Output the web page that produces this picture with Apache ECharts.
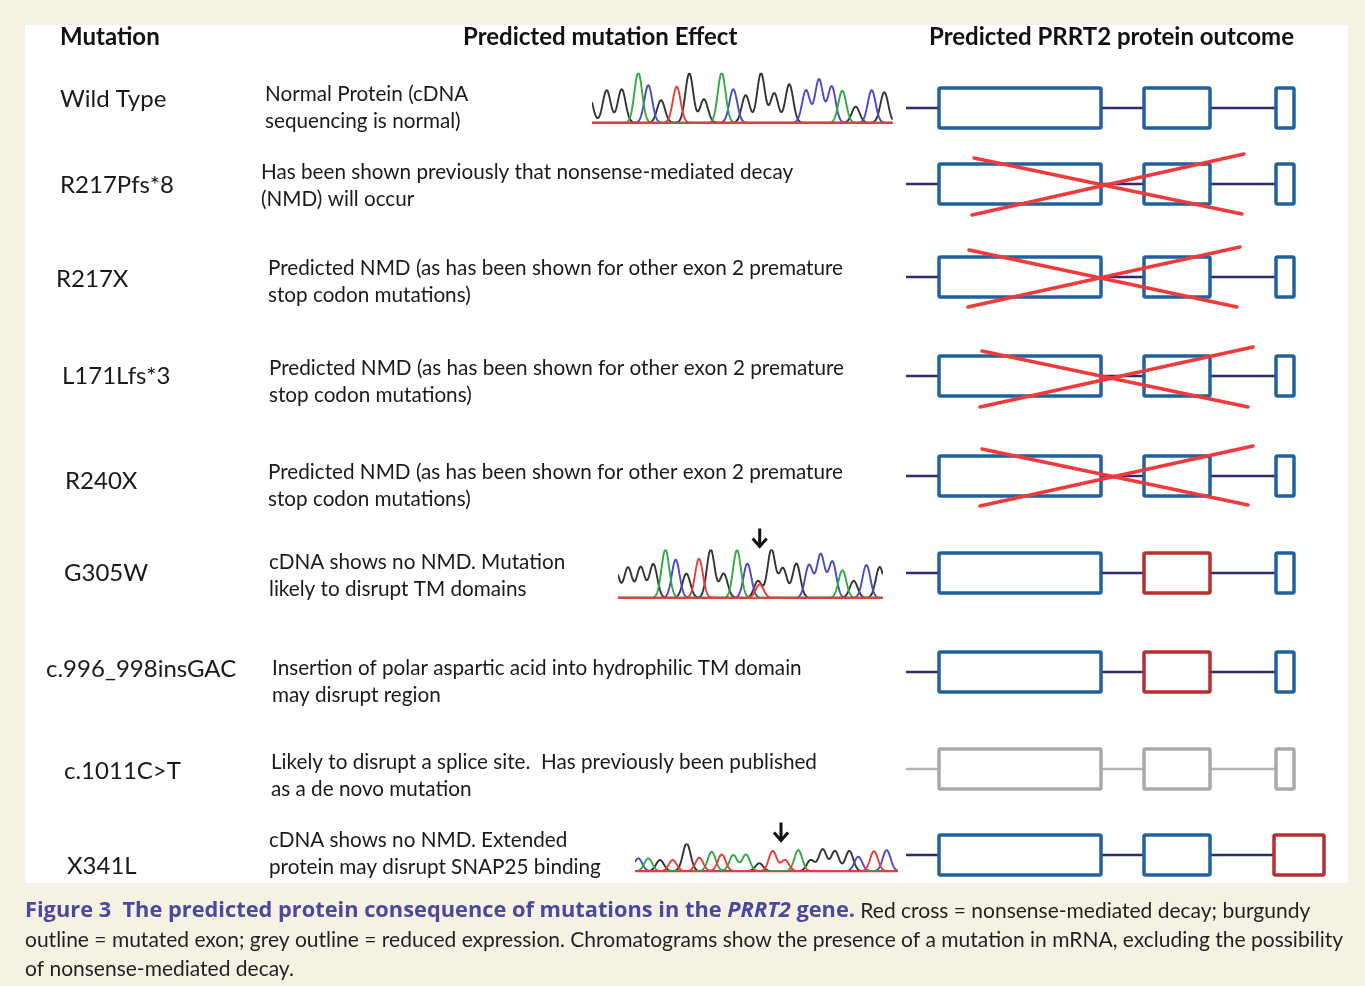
<!DOCTYPE html>
<html>
<head>
<meta charset="utf-8">
<script src="https://cdn.jsdelivr.net/npm/echarts/dist/echarts.min.js"></script>
<style>
html,body{margin:0;padding:0;background:#f5f1e3;}
#chart{width:1365px;height:986px;}
</style>
</head>
<body>
<div id="chart"></div>
<script>
// ---------------- DATA ----------------
const HEADERS = ['Mutation', 'Predicted mutation Effect', 'Predicted PRRT2 protein outcome'];
const MUTATIONS = ['Wild Type', 'R217Pfs*8', 'R217X', 'L171Lfs*3', 'R240X', 'G305W', 'c.996_998insGAC', 'c.1011C>T', 'X341L'];
const EFFECT_LINE1 = [
  'Normal Protein (cDNA',
  'Has been shown previously that nonsense-mediated decay',
  'Predicted NMD (as has been shown for other exon 2 premature',
  'Predicted NMD (as has been shown for other exon 2 premature',
  'Predicted NMD (as has been shown for other exon 2 premature',
  'cDNA shows no NMD. Mutation',
  'Insertion of polar aspartic acid into hydrophilic TM domain',
  'Likely to disrupt a splice site.  Has previously been published',
  'cDNA shows no NMD. Extended'
];
const EFFECT_LINE2 = [
  'sequencing is normal)',
  '(NMD) will occur',
  'stop codon mutations)',
  'stop codon mutations)',
  'stop codon mutations)',
  'likely to disrupt TM domains',
  'may disrupt region',
  'as a de novo mutation',
  'protein may disrupt SNAP25 binding'
];
// outcome per mutation
const OUTCOME = ['normal', 'nmd', 'nmd', 'nmd', 'nmd', 'mutExon2', 'mutExon2', 'reduced', 'extExon3'];
// gene model (arbitrary gene units along the transcript)
const EXON_BOUNDS = [[33, 195], [238, 304], [370, 388]];
const EXON3_EXTENDED = [368, 418];
// red NMD crosses: [x1, y1, x2, y2] per stroke (gene units, y offset from transcript axis)
const NMD_CROSSES = [
  null,
  [[68, -26, 336, 30], [66, 31, 338, -30]],
  [[63, -27, 331, 30], [62, 30, 334, -30]],
  [[76, -25, 342, 31], [74, 31, 347, -29]],
  [[76, -27, 342, 29], [74, 30, 347, -30]],
  null, null, null, null
];
// chromatogram peaks: [position, relative height, base]
const CHROM_WT = [
  [-3, 0.55, 'G'], [14.7, 0.65, 'G'], [29.7, 0.67, 'G'], [46.3, 1.0, 'A'], [56.3, 0.75, 'C'],
  [69, 0.45, 'G'], [84.7, 0.72, 'T'], [97.3, 0.99, 'G'], [112, 0.47, 'G'], [129.7, 1.0, 'A'],
  [141.3, 0.67, 'C'], [153.7, 0.55, 'G'], [169, 0.99, 'G'], [182.3, 0.59, 'G'], [197.3, 0.77, 'G'],
  [214, 0.65, 'C'], [227, 0.87, 'C'], [239.7, 0.73, 'C'], [250.3, 0.64, 'A'], [263.7, 0.32, 'G'],
  [279.7, 0.65, 'C'], [292.3, 0.61, 'G']
];
const CHROM_G305W = [
  [-3, 0.62, 'G'], [10, 0.63, 'G'], [22.7, 0.64, 'G'], [35.3, 0.7, 'G'], [47.4, 1.0, 'A'], [57.7, 0.79, 'C'],
  [68.4, 0.5, 'G'], [81, 0.81, 'T'], [92.7, 1.0, 'G'], [105.7, 0.5, 'G'], [119, 0.99, 'A'],
  [129.4, 0.71, 'C'], [140, 0.35, 'G'], [141.7, 0.28, 'T'], [153.4, 1.0, 'G'], [165, 0.61, 'G'],
  [178.4, 0.71, 'G'], [191, 0.68, 'C'], [202.7, 0.9, 'C'], [214.4, 0.75, 'C'], [224.4, 0.57, 'A'],
  [235.7, 0.35, 'G'], [248.4, 0.68, 'C'], [261.7, 0.64, 'G']
];
const CHROM_X341L = [
  [3.3, 0.46, 'C'], [13.3, 0.46, 'A'], [25, 0.4, 'G'], [37.7, 0.4, 'T'], [51.7, 1.0, 'G'],
  [64.3, 0.48, 'T'], [76.7, 0.7, 'A'], [86.7, 0.6, 'T'], [98.3, 0.58, 'A'], [111, 0.6, 'A'],
  [124.3, 0.28, 'G'], [137.7, 0.73, 'T'], [150, 0.4, 'T'], [163.3, 0.76, 'A'], [175.7, 0.4, 'G'],
  [187.7, 0.79, 'G'], [200, 0.73, 'G'], [214.3, 0.73, 'G'], [223.3, 0.52, 'C'], [239, 0.72, 'T'],
  [251.7, 0.76, 'C']
];
const MUT_SITE_G305W = 141.7;
const MUT_SITE_X341L = 146;
const CAPTION_BOLD = 'Figure 3  The predicted protein consequence of mutations in the ';
const CAPTION_ITALIC = 'PRRT2';
const CAPTION_BOLD_END = ' gene.';
const CAPTION_LINE1_REST = ' Red cross = nonsense-mediated decay; burgundy';
const CAPTION_LINE2 = 'outline = mutated exon; grey outline = reduced expression. Chromatograms show the presence of a mutation in mRNA, excluding the possibility';
const CAPTION_LINE3 = 'of nonsense-mediated decay.';

// ---------------- LAYOUT & STYLE ----------------
const ROW_Y = [108, 184, 277, 376, 476, 573, 672, 769, 855];
const LABEL_POS = [[60, 99], [60, 185], [56, 279], [62, 376], [65, 481], [64, 573], [46, 669], [64, 771], [67, 866]];
const EFFECT_POS = [[265, 94], [261, 172], [268, 268], [269, 368], [268, 472], [269, 562], [272, 668], [271, 762], [269, 840]];
const EFFECT_LINE_GAP = 27;
const GENE_LEFT = 906, GENE_WIDTH = 418, GENE_HALF = 32, EXON_HALF = 20;
const CHROMS = [
  { peaks: CHROM_WT, site: null, left: 592, top: 72.7, width: 301, height: 50 },
  { peaks: CHROM_G305W, site: MUT_SITE_G305W, left: 618, top: 549.5, width: 265, height: 48.3 },
  { peaks: CHROM_X341L, site: MUT_SITE_X341L, left: 635, top: 843.5, width: 263, height: 27.5 }
];
const BASE_COLOR = { A: '#33a843', C: '#4a4ac4', G: '#333333', T: '#ec3b36' };
const DRAW_ORDER = ['G', 'C', 'A', 'T'];
const PEAK_SIGMA = 3.9;
const BLUE = '#22619f', BURGUNDY = '#b52f2e', GREY = '#a9a9a9', INTRON = '#2d2b6c', INTRON_GREY = '#b3b3b3', CROSS = '#f03a3c';
const FONT = 'Lato, "Open Sans", sans-serif';

// ---------------- BUILD ----------------
const grids = [], xAxes = [], yAxes = [], series = [];
let axisIdx = 0;

MUTATIONS.forEach((m, i) => {
  grids.push({ left: GENE_LEFT, top: ROW_Y[i] - GENE_HALF, width: GENE_WIDTH, height: GENE_HALF * 2 });
  xAxes.push({ gridIndex: axisIdx, type: 'value', min: 0, max: GENE_WIDTH, show: false });
  yAxes.push({ gridIndex: axisIdx, type: 'value', min: -GENE_HALF, max: GENE_HALF, inverse: true, show: false });
  const idx = axisIdx;
  series.push({
    type: 'custom', xAxisIndex: idx, yAxisIndex: idx, silent: true, clip: false,
    data: [[i]],
    renderItem: (params, api) => {
      const outcome = OUTCOME[i];
      const exons = outcome === 'extExon3' ? [EXON_BOUNDS[0], EXON_BOUNDS[1], EXON3_EXTENDED] : EXON_BOUNDS;
      const children = [];
      const a = api.coord([0, 0]);
      const b = api.coord([exons[2][0], 0]);
      children.push({
        type: 'line', shape: { x1: a[0], y1: a[1], x2: b[0], y2: b[1] },
        style: { stroke: outcome === 'reduced' ? INTRON_GREY : INTRON, lineWidth: 2.5 }
      });
      exons.forEach((e, k) => {
        let col = BLUE;
        if (outcome === 'reduced') col = GREY;
        else if (outcome === 'mutExon2' && k === 1) col = BURGUNDY;
        else if (outcome === 'extExon3' && k === 2) col = BURGUNDY;
        const p = api.coord([e[0], -EXON_HALF]);
        const q = api.coord([e[1], EXON_HALF]);
        children.push({
          type: 'rect',
          shape: { x: p[0], y: Math.min(p[1], q[1]), width: q[0] - p[0], height: Math.abs(q[1] - p[1]), r: 1.5 },
          style: { fill: '#ffffff', stroke: col, lineWidth: 3.5 }
        });
      });
      const cr = NMD_CROSSES[i];
      if (cr) {
        cr.forEach(s => {
          const p = api.coord([s[0], s[1]]);
          const q = api.coord([s[2], s[3]]);
          children.push({
            type: 'line', shape: { x1: p[0], y1: p[1], x2: q[0], y2: q[1] },
            style: { stroke: CROSS, lineWidth: 3.5, lineCap: 'round' }
          });
        });
      }
      return { type: 'group', children };
    }
  });
  axisIdx++;
});

CHROMS.forEach(c => {
  grids.push({ left: c.left, top: c.top, width: c.width, height: c.height });
  xAxes.push({ gridIndex: axisIdx, type: 'value', min: 0, max: c.width, show: false });
  yAxes.push({ gridIndex: axisIdx, type: 'value', min: 0, max: 1, show: false });
  const idx = axisIdx;
  // one trace per base, drawn from that base's peaks
  series.push({
    type: 'custom', xAxisIndex: idx, yAxisIndex: idx, silent: true, clip: true,
    data: DRAW_ORDER.map((b, k) => [k]),
    renderItem: (params, api) => {
      const base = DRAW_ORDER[params.dataIndex];
      const pk = c.peaks.filter(p => p[2] === base);
      const pts = [];
      for (let x = 0; x <= c.width; x += 0.6) {
        let y = 0;
        pk.forEach(p => { const d = (x - p[0]) / PEAK_SIGMA; if (Math.abs(d) < 5) y += p[1] * Math.exp(-0.5 * d * d); });
        pts.push(api.coord([x, y]));
      }
      return { type: 'polyline', shape: { points: pts }, style: { stroke: BASE_COLOR[base], lineWidth: 1.9, fill: null, lineJoin: 'round' } };
    }
  });
  // baseline + mutation arrow
  series.push({
    type: 'custom', xAxisIndex: idx, yAxisIndex: idx, silent: true, clip: false,
    data: [[0]],
    renderItem: (params, api) => {
      const children = [];
      const a = api.coord([0, 0]);
      const b = api.coord([c.width, 0]);
      children.push({ type: 'line', shape: { x1: a[0], y1: a[1] + 0.5, x2: b[0], y2: b[1] + 0.5 }, style: { stroke: '#ec3b36', lineWidth: 1.4 } });
      if (c.site !== null) {
        const t = api.coord([c.site, 1]);
        const y0 = t[1] - 21, y1 = t[1] - 3;
        children.push({ type: 'line', shape: { x1: t[0], y1: y0, x2: t[0], y2: y1 }, style: { stroke: '#111', lineWidth: 3 } });
        children.push({ type: 'polyline', shape: { points: [[t[0] - 7, y1 - 8], [t[0], y1], [t[0] + 7, y1 - 8]] }, style: { stroke: '#111', lineWidth: 3, fill: null, lineJoin: 'miter' } });
      }
      return { type: 'group', children };
    }
  });
  axisIdx++;
});

// text graphics
const elements = [];
elements.push({ type: 'rect', z: -10, shape: { x: 25, y: 25, width: 1323, height: 858 }, style: { fill: '#ffffff' } });
const headerX = [60, 463, 929];
HEADERS.forEach((h, k) => {
  elements.push({ type: 'text', x: headerX[k], y: 37, style: { text: h, font: 'bold 24px ' + FONT, fill: '#111', verticalAlign: 'middle' } });
});
MUTATIONS.forEach((m, i) => {
  elements.push({ type: 'text', x: LABEL_POS[i][0], y: LABEL_POS[i][1], style: { text: m, font: '24px ' + FONT, fill: '#1a1a1a', verticalAlign: 'middle' } });
  elements.push({ type: 'text', x: EFFECT_POS[i][0], y: EFFECT_POS[i][1], style: { text: EFFECT_LINE1[i], font: '20.7px ' + FONT, fill: '#1a1a1a', verticalAlign: 'middle' } });
  elements.push({ type: 'text', x: EFFECT_POS[i][0], y: EFFECT_POS[i][1] + EFFECT_LINE_GAP, style: { text: EFFECT_LINE2[i], font: '20.7px ' + FONT, fill: '#1a1a1a', verticalAlign: 'middle' } });
});
const CAP_BOLD_FONT = 'bold 21.8px "Open Sans", Lato, sans-serif';
elements.push({
  type: 'text', x: 25, y: 911,
  style: {
    text: '{b|' + CAPTION_BOLD + '}{bi|' + CAPTION_ITALIC + '}{b|' + CAPTION_BOLD_END + '}{r|' + CAPTION_LINE1_REST + '}',
    verticalAlign: 'middle',
    rich: {
      b: { font: CAP_BOLD_FONT, fill: '#4a48a0' },
      bi: { font: 'italic ' + CAP_BOLD_FONT, fill: '#4a48a0' },
      r: { font: '21px ' + FONT, fill: '#231f20' }
    }
  }
});
elements.push({ type: 'text', x: 25, y: 940, style: { text: CAPTION_LINE2, font: '21px ' + FONT, fill: '#231f20', verticalAlign: 'middle' } });
elements.push({ type: 'text', x: 25, y: 969, style: { text: CAPTION_LINE3, font: '21px ' + FONT, fill: '#231f20', verticalAlign: 'middle' } });

const chart = echarts.init(document.getElementById('chart'), null, { renderer: 'canvas' });
chart.setOption({
  backgroundColor: '#f5f1e3',
  animation: false,
  grid: grids,
  xAxis: xAxes,
  yAxis: yAxes,
  series: series,
  graphic: { elements }
});
</script>
</body>
</html>
